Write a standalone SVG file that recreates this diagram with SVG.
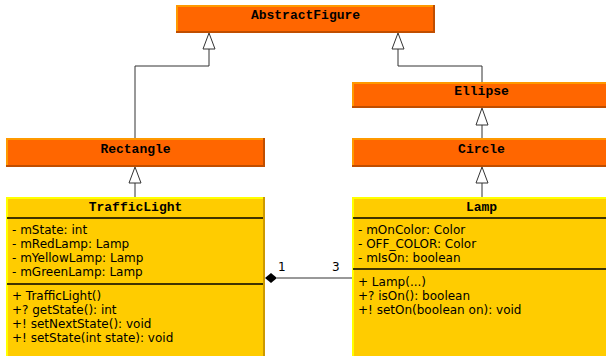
<svg xmlns="http://www.w3.org/2000/svg" width="606" height="356" viewBox="0 0 606 356">
<style>
.of{fill:#FF6600}
.ol{stroke:#FF9900;stroke-width:2;fill:none}
.od{stroke:#C04E00;stroke-width:2;fill:none}
.yf{fill:#FFCC00}
.yl{stroke:#FFFF00;stroke-width:2;fill:none}
.yd{stroke:#CC9900;stroke-width:2;fill:none}
.sep{stroke:#000;stroke-width:1.5}
.hd{font-family:"Liberation Mono","Courier New",monospace;font-weight:bold;font-size:13px;fill:#000;text-anchor:middle}
.tx{font-family:"DejaVu Sans",sans-serif;font-size:12px;fill:#000}
.ln{stroke:#333;stroke-width:1;fill:none}
.tri{fill:#fff;stroke:#333;stroke-width:1}
</style>
<rect width="606" height="356" fill="#fff"/>
<g id="AbstractFigure">
<rect class="of" x="176" y="5" width="259" height="28"/>
<path class="ol" d="M177,32 V6 H434"/>
<path class="od" d="M176,32 H434 V5"/>
<text class="hd" x="305.5" y="19">AbstractFigure</text>
</g>
<g id="Rectangle">
<rect class="of" x="6" y="138" width="259" height="29"/>
<path class="ol" d="M7,166 V139 H264"/>
<path class="od" d="M6,166 H264 V138"/>
<text class="hd" x="135.5" y="153">Rectangle</text>
</g>
<g id="Ellipse">
<rect class="of" x="352" y="82" width="259" height="26"/>
<path class="ol" d="M353,107 V83 H611"/>
<path class="od" d="M352,107 H611"/>
<text class="hd" x="481.5" y="95">Ellipse</text>
</g>
<g id="Circle">
<rect class="of" x="352" y="138" width="259" height="29"/>
<path class="ol" d="M353,166 V139 H611"/>
<path class="od" d="M352,166 H611"/>
<text class="hd" x="481.5" y="153">Circle</text>
</g>
<g id="TrafficLight">
<rect class="yf" x="6" y="197" width="259" height="165"/>
<path class="yl" d="M7,362 V198 H264"/>
<path class="yd" d="M264,197 V362"/>
<text class="hd" x="135.5" y="211">TrafficLight</text>
<line class="sep" x1="7" y1="218" x2="263" y2="218"/>
<text class="tx" x="12" y="234">- mState: int</text>
<text class="tx" x="12" y="248">- mRedLamp: Lamp</text>
<text class="tx" x="12" y="262">- mYellowLamp: Lamp</text>
<text class="tx" x="12" y="276">- mGreenLamp: Lamp</text>
<line class="sep" x1="7" y1="284" x2="263" y2="284"/>
<text class="tx" x="12" y="300">+ TrafficLight()</text>
<text class="tx" x="12" y="314">+? getState(): int</text>
<text class="tx" x="12" y="328">+! setNextState(): void</text>
<text class="tx" x="12" y="342">+! setState(int state): void</text>
</g>
<g id="Lamp">
<rect class="yf" x="352" y="197" width="259" height="165"/>
<path class="yl" d="M353,362 V198 H611"/>
<text class="hd" x="481.5" y="211">Lamp</text>
<line class="sep" x1="353" y1="218" x2="606" y2="218"/>
<text class="tx" x="358" y="234">- mOnColor: Color</text>
<text class="tx" x="358" y="248">- OFF_COLOR: Color</text>
<text class="tx" x="358" y="262">- mIsOn: boolean</text>
<line class="sep" x1="353" y1="269" x2="606" y2="269"/>
<text class="tx" x="358" y="286">+ Lamp(...)</text>
<text class="tx" x="358" y="300">+? isOn(): boolean</text>
<text class="tx" x="358" y="314">+! setOn(boolean on): void</text>
</g>
<g id="connectors">
<path class="ln" d="M135,138 V66 H209 V49"/>
<polygon class="tri" points="209,33 203,49 215,49"/>
<path class="ln" d="M482,82 V66 H398 V49"/>
<polygon class="tri" points="398,33 392,49 404,49"/>
<path class="ln" d="M482,138 V125"/>
<polygon class="tri" points="482,108 476,125 488,125"/>
<path class="ln" d="M135,197 V183"/>
<polygon class="tri" points="135,167 129,183 141,183"/>
<path class="ln" d="M482,197 V183"/>
<polygon class="tri" points="482,167 476,183 488,183"/>
<path class="ln" d="M277,278 H352"/>
<polygon points="265,278 271,273 277,278 271,283" fill="#000"/>
<text class="tx" x="278" y="271">1</text>
<text class="tx" x="332" y="271">3</text>
</g>
</svg>
